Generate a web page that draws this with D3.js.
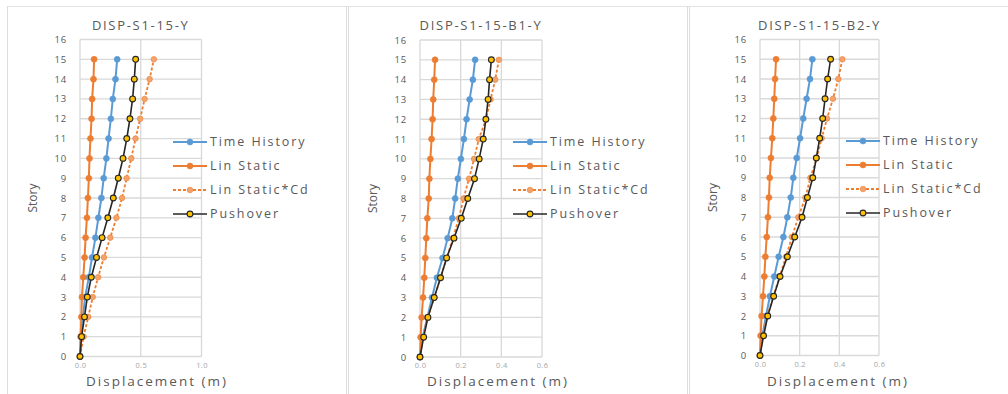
<!DOCTYPE html>
<html>
<head>
<meta charset="utf-8">
<script src="https://cdn.jsdelivr.net/npm/d3@7"></script>
<style>
  html, body { margin: 0; padding: 0; background: #fff; }
  svg { display: block; font-family: "Open Sans", "DejaVu Sans", sans-serif; }
</style>
</head>
<body>
<svg id="chart" width="1008" height="394"></svg>
<script>
// Story levels
const stories = [0, 1, 2, 3, 4, 5, 6, 7, 8, 9, 10, 11, 12, 13, 14, 15];
const storyTicks = [0, 1, 2, 3, 4, 5, 6, 7, 8, 9, 10, 11, 12, 13, 14, 15, 16];

// Series names
const seriesNames = ["Time History", "Lin Static", "Lin Static*Cd", "Pushover"];

// Chart titles and x tick labels
const titles = ["DISP-S1-15-Y", "DISP-S1-15-B1-Y", "DISP-S1-15-B2-Y"];
const xTicksA = [0.0, 0.5, 1.0];
const xTicksB = [0.0, 0.2, 0.4, 0.6];

// Displacements (m), DISP-S1-15-Y
const timeHistoryY = [0, 0.009, 0.024, 0.042, 0.073, 0.099, 0.127, 0.151, 0.176, 0.195, 0.217, 0.235, 0.254, 0.270, 0.292, 0.306];
const linStaticY   = [0, 0.005, 0.011, 0.016, 0.027, 0.038, 0.046, 0.057, 0.065, 0.073, 0.078, 0.086, 0.095, 0.100, 0.111, 0.116];
const linStaticCdY = [0, 0.030, 0.068, 0.105, 0.149, 0.197, 0.249, 0.300, 0.346, 0.384, 0.422, 0.457, 0.495, 0.532, 0.573, 0.608];
const pushoverY    = [0, 0.013, 0.037, 0.060, 0.093, 0.136, 0.182, 0.229, 0.274, 0.315, 0.354, 0.385, 0.411, 0.433, 0.447, 0.458];

// Displacements (m), DISP-S1-15-B1-Y
const timeHistoryB1 = [0, 0.013, 0.036, 0.059, 0.083, 0.111, 0.136, 0.159, 0.173, 0.186, 0.201, 0.216, 0.229, 0.244, 0.260, 0.271];
const linStaticB1   = [0, 0.003, 0.008, 0.015, 0.021, 0.026, 0.031, 0.036, 0.043, 0.046, 0.051, 0.057, 0.062, 0.065, 0.070, 0.074];
const linStaticCdB1 = [0, 0.013, 0.038, 0.070, 0.101, 0.132, 0.162, 0.191, 0.214, 0.241, 0.266, 0.289, 0.325, 0.347, 0.370, 0.388];
const pushoverB1    = [0, 0.018, 0.039, 0.070, 0.101, 0.131, 0.167, 0.203, 0.235, 0.268, 0.291, 0.311, 0.324, 0.335, 0.342, 0.351];

// Displacements (m), DISP-S1-15-B2-Y
const timeHistoryB2 = [0, 0.012, 0.030, 0.050, 0.072, 0.094, 0.118, 0.138, 0.155, 0.168, 0.185, 0.202, 0.218, 0.235, 0.252, 0.264];
const linStaticB2   = [0, 0.003, 0.008, 0.015, 0.022, 0.027, 0.034, 0.040, 0.045, 0.049, 0.055, 0.062, 0.067, 0.072, 0.076, 0.081];
const linStaticCdB2 = [0, 0.013, 0.037, 0.067, 0.099, 0.131, 0.161, 0.193, 0.229, 0.254, 0.286, 0.311, 0.338, 0.368, 0.395, 0.415];
const pushoverB2    = [0, 0.018, 0.039, 0.069, 0.101, 0.138, 0.175, 0.212, 0.239, 0.266, 0.284, 0.301, 0.316, 0.328, 0.341, 0.356];

const panelData = [
  [timeHistoryY, linStaticY, linStaticCdY, pushoverY],
  [timeHistoryB1, linStaticB1, linStaticCdB1, pushoverB1],
  [timeHistoryB2, linStaticB2, linStaticCdB2, pushoverB2]
];
const panelTicks = [xTicksA, xTicksB, xTicksB];

// Panel geometry
const panels = [
  { frameX: 7.5,   frameW: 339, left: 80,  right: 201.5, top: 39.5, bottom: 356.5, legX: 173, legY: 142, xTitle: 157 },
  { frameX: 348.5, frameW: 339, left: 420, right: 542,   top: 40,   bottom: 357,   legX: 513, legY: 142, xTitle: 498 },
  { frameX: 689.5, frameW: 330, left: 760, right: 879,   top: 39.5, bottom: 355.5, legX: 846, legY: 141, xTitle: 838 }
];

// Series styles
const styles = [
  { stroke: "#5B9BD5", width: 2,   dash: null,  fill: "#5B9BD5", mstroke: "#5B9BD5", r: 3 },
  { stroke: "#ED7D31", width: 2,   dash: null,  fill: "#ED7D31", mstroke: "#ED7D31", r: 3 },
  { stroke: "#ED7D31", width: 1.8, dash: "3,2", fill: "#F4A36B", mstroke: "#ED7D31", r: 2.8 },
  { stroke: "#262626", width: 1.6, dash: null,  fill: "#FFC000", mstroke: "#262626", r: 2.9 }
];

const svg = d3.select("#chart");
const grid = "#d9d9d9";
const textCol = "#595959";

// Outer frames of the three chart areas
svg.append("line").attr("x1", 7).attr("x2", 1008).attr("y1", 6.5).attr("y2", 6.5)
  .attr("stroke", "#e3e3e3").attr("stroke-width", 1);
panels.forEach(p => {
  svg.append("line").attr("x1", p.frameX).attr("x2", p.frameX).attr("y1", 6.5).attr("y2", 394)
    .attr("stroke", "#dcdcdc").attr("stroke-width", 1);
  if (p.frameX < 600) {
    svg.append("line").attr("x1", p.frameX + p.frameW).attr("x2", p.frameX + p.frameW)
      .attr("y1", 6.5).attr("y2", 394).attr("stroke", "#dcdcdc").attr("stroke-width", 1);
  }
});

panels.forEach((p, i) => {
  const ticks = panelTicks[i];
  const x = d3.scaleLinear().domain([0, ticks[ticks.length - 1]]).range([p.left, p.right]);
  const y = d3.scaleLinear().domain([0, 16]).range([p.bottom, p.top]);
  const g = svg.append("g");

  // Gridlines
  g.append("g").selectAll("line").data(storyTicks).join("line")
    .attr("x1", p.left).attr("x2", p.right)
    .attr("y1", d => y(d)).attr("y2", d => y(d))
    .attr("stroke", grid).attr("stroke-width", 1.3);
  g.append("g").selectAll("line").data(ticks).join("line")
    .attr("x1", d => x(d)).attr("x2", d => x(d))
    .attr("y1", p.top).attr("y2", p.bottom)
    .attr("stroke", grid).attr("stroke-width", 1.3);

  // Y axis tick labels
  const yAxis = d3.axisLeft(y).tickValues(storyTicks).tickSize(0).tickPadding(13);
  const ya = g.append("g").attr("transform", `translate(${p.left},0)`).call(yAxis);
  ya.select(".domain").remove();
  ya.selectAll("text").attr("fill", textCol).attr("font-size", 9.5)
    .attr("letter-spacing", 0.8).attr("font-family", "'Open Sans', sans-serif");

  // X axis tick labels
  const xAxis = d3.axisBottom(x).tickValues(ticks).tickSize(0).tickPadding(6).tickFormat(d3.format(".1f"));
  const xa = g.append("g").attr("transform", `translate(0,${p.bottom})`).call(xAxis);
  xa.select(".domain").remove();
  xa.selectAll("text").attr("fill", "#a6a6a6").attr("font-size", 7.5)
    .attr("letter-spacing", 0.3).attr("font-family", "'Open Sans', sans-serif");

  // Series
  const line = d3.line().x(d => x(d[0])).y(d => y(d[1]));
  panelData[i].forEach((vals, s) => {
    const st = styles[s];
    const pts = vals.map((v, k) => [v, stories[k]]);
    g.append("path").datum(pts).attr("d", line)
      .attr("fill", "none").attr("stroke", st.stroke).attr("stroke-width", st.width)
      .attr("stroke-dasharray", st.dash).attr("stroke-linejoin", "round");
    g.append("g").selectAll("circle").data(pts).join("circle")
      .attr("cx", d => x(d[0])).attr("cy", d => y(d[1])).attr("r", st.r)
      .attr("fill", st.fill).attr("stroke", st.mstroke).attr("stroke-width", s === 3 ? 1.1 : 0.6);
  });

  // Title
  g.append("text").attr("x", (p.left + p.right) / 2).attr("y", 30)
    .attr("text-anchor", "middle").attr("fill", textCol).attr("font-size", 13)
    .attr("letter-spacing", 1.7).text(titles[i]);

  // Axis titles
  g.append("text").attr("x", p.xTitle).attr("y", 386)
    .attr("text-anchor", "middle").attr("fill", textCol).attr("font-size", 13.5)
    .attr("letter-spacing", 2).text("Displacement (m)");
  g.append("text").attr("transform", `translate(${p.left - 43},${(p.top + p.bottom) / 2}) rotate(-90)`)
    .attr("text-anchor", "middle").attr("fill", textCol).attr("font-size", 12)
    .text("Story");

  // Legend
  const leg = g.append("g").attr("transform", `translate(${p.legX},${p.legY})`);
  seriesNames.forEach((name, s) => {
    const st = styles[s];
    const row = leg.append("g").attr("transform", `translate(0,${s * 24})`);
    row.append("line").attr("x1", 0).attr("x2", 34).attr("y1", 0).attr("y2", 0)
      .attr("stroke", st.stroke).attr("stroke-width", st.width).attr("stroke-dasharray", st.dash);
    row.append("circle").attr("cx", 17).attr("cy", 0).attr("r", st.r)
      .attr("fill", st.fill).attr("stroke", st.mstroke).attr("stroke-width", s === 3 ? 1.1 : 0.6);
    row.append("text").attr("x", 37).attr("y", 0).attr("dy", "0.35em")
      .attr("fill", textCol).attr("font-size", 12.5).attr("letter-spacing", 1.9).text(name);
  });
});
</script>
</body>
</html>
